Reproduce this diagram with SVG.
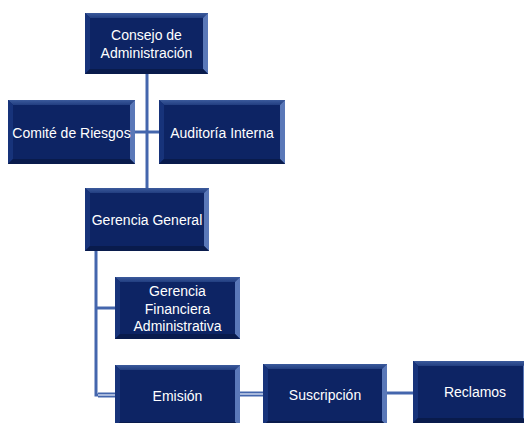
<svg xmlns="http://www.w3.org/2000/svg" width="524" height="423" viewBox="0 0 524 423">
<style>
.face{fill:#0d2464}
.top{fill:url(#gt)}
.left{fill:#17337a}
.right{fill:#5a78b8}
.bot{fill:#091b4c}
.conn{stroke:#4466ad;stroke-width:3;fill:none}
.dbl{stroke:#4466ad;stroke-width:5;fill:none}
.dbli{stroke:#c9d4ec;stroke-width:1.5;fill:none}
text{font-family:"Liberation Sans",Arial,sans-serif;font-size:14px;fill:#ffffff;text-anchor:middle}
</style>
<defs>
<linearGradient id="gt" x1="0" y1="0" x2="0" y2="1">
<stop offset="0" stop-color="#3b5a9c"/>
<stop offset="1" stop-color="#223e80"/>
</linearGradient>
</defs>
<rect width="524" height="423" fill="#ffffff"/>
<g id="connectors">
<line class="conn" x1="147" y1="74" x2="147" y2="188"/>
<line class="conn" x1="135" y1="132" x2="159" y2="132"/>
<polyline class="conn" points="96,251 96,395 115,395"/>
<line class="conn" x1="96" y1="308" x2="115" y2="308"/>
<line class="dbl" x1="98" y1="395" x2="115" y2="395"/>
<line class="dbli" x1="98" y1="395" x2="115" y2="395"/>
<line class="dbl" x1="240" y1="394" x2="263" y2="394"/>
<line class="dbli" x1="240" y1="394" x2="263" y2="394"/>
<line class="conn" x1="387" y1="393" x2="413" y2="393"/>
</g>
<g id="consejo">
<rect class="face" x="85" y="13" width="123" height="61"/>
<polygon class="top" points="85,13 208,13 203,18 90,18"/>
<polygon class="left" points="85,13 90,18 90,69 85,74"/>
<polygon class="right" points="208,13 208,74 203,69 203,18"/>
<polygon class="bot" points="85,74 208,74 203,69 90,69"/>
<text x="146.5" y="40">Consejo de</text>
<text x="146.5" y="57.5">Administración</text>
</g>
<g id="comite">
<rect class="face" x="8" y="100" width="127" height="64"/>
<polygon class="top" points="8,100 135,100 130,105 13,105"/>
<polygon class="left" points="8,100 13,105 13,159 8,164"/>
<polygon class="right" points="135,100 135,164 130,159 130,105"/>
<polygon class="bot" points="8,164 135,164 130,159 13,159"/>
<text x="71.5" y="137.5">Comité de Riesgos</text>
</g>
<g id="auditoria">
<rect class="face" x="159" y="100" width="126" height="64"/>
<polygon class="top" points="159,100 285,100 280,105 164,105"/>
<polygon class="left" points="159,100 164,105 164,159 159,164"/>
<polygon class="right" points="285,100 285,164 280,159 280,105"/>
<polygon class="bot" points="159,164 285,164 280,159 164,159"/>
<text x="222" y="137.5">Auditoría Interna</text>
</g>
<g id="gerencia-general">
<rect class="face" x="85" y="188" width="124" height="63"/>
<polygon class="top" points="85,188 209,188 204,193 90,193"/>
<polygon class="left" points="85,188 90,193 90,246 85,251"/>
<polygon class="right" points="209,188 209,251 204,246 204,193"/>
<polygon class="bot" points="85,251 209,251 204,246 90,246"/>
<text x="147" y="225">Gerencia General</text>
</g>
<g id="gerencia-financiera">
<rect class="face" x="115" y="277" width="125" height="62"/>
<polygon class="top" points="115,277 240,277 235,282 120,282"/>
<polygon class="left" points="115,277 120,282 120,334 115,339"/>
<polygon class="right" points="240,277 240,339 235,334 235,282"/>
<polygon class="bot" points="115,339 240,339 235,334 120,334"/>
<text x="177.5" y="296">Gerencia</text>
<text x="177.5" y="313.5">Financiera</text>
<text x="177.5" y="331">Administrativa</text>
</g>
<g id="emision">
<rect class="face" x="115" y="365" width="125" height="62"/>
<polygon class="top" points="115,365 240,365 235,370 120,370"/>
<polygon class="left" points="115,365 120,370 120,422 115,427"/>
<polygon class="right" points="240,365 240,427 235,422 235,370"/>
<polygon class="bot" points="115,427 240,427 235,422 120,422"/>
<text x="177.5" y="401">Emisión</text>
</g>
<g id="suscripcion">
<rect class="face" x="263" y="364" width="124" height="62"/>
<polygon class="top" points="263,364 387,364 382,369 268,369"/>
<polygon class="left" points="263,364 268,369 268,421 263,426"/>
<polygon class="right" points="387,364 387,426 382,421 382,369"/>
<polygon class="bot" points="263,426 387,426 382,421 268,421"/>
<text x="325" y="400">Suscripción</text>
</g>
<g id="reclamos">
<rect class="face" x="413" y="361" width="115" height="62"/>
<polygon class="top" points="413,361 528,361 523,366 418,366"/>
<polygon class="left" points="413,361 418,366 418,418 413,423"/>
<polygon class="right" points="528,361 528,423 523,418 523,366"/>
<polygon class="bot" points="413,423 528,423 523,418 418,418"/>
<text x="475" y="397">Reclamos</text>
</g>
</svg>
